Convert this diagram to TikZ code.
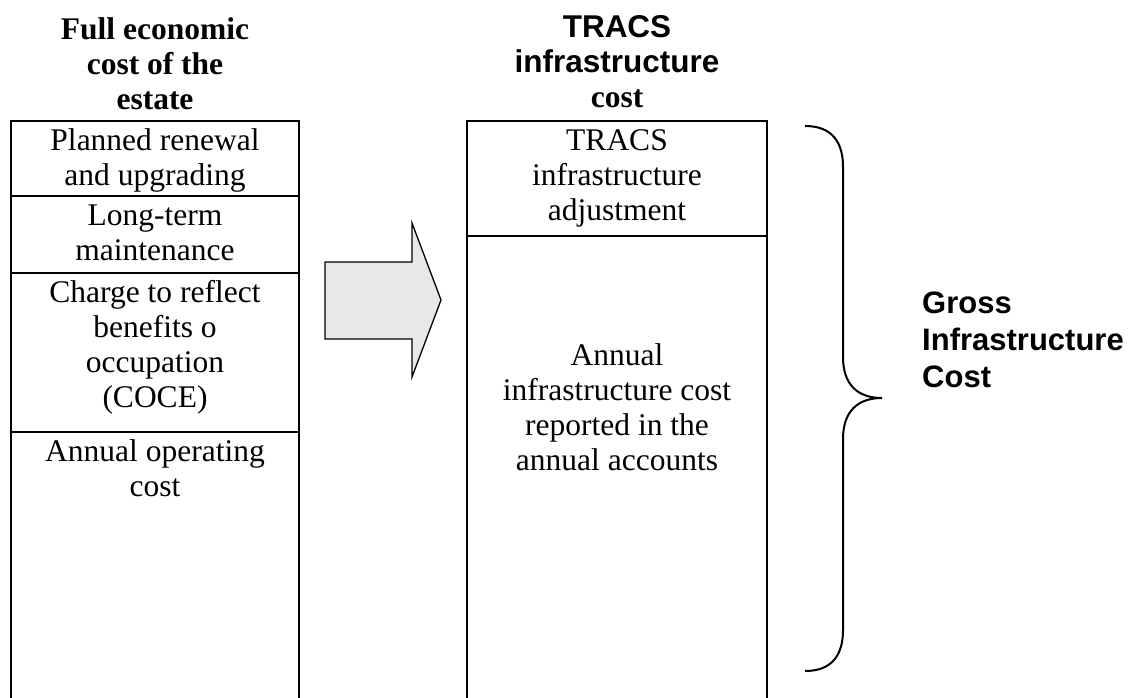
\documentclass[tikz,border=0pt]{standalone}
\usepackage{fontspec}
\setmainfont{Liberation Serif}
\setsansfont{Liberation Sans}
\definecolor{arrowgray}{RGB}{232,232,232}

\begin{document}
\begin{tikzpicture}
        [x=1pt, y=-1pt,
         cell/.style={draw, line width=2pt, inner sep=0, outer sep=0, anchor=north west},
         body/.style={font=\fontsize{31.5}{35}\selectfont, align=flush center, anchor=base, inner sep=0},
         head/.style={body, font=\fontsize{31.5}{35}\selectfont\bfseries}]

        \useasboundingbox (0,0) rectangle (1131,697);
        \clip (0,0) rectangle (1131,697);

        % left column
        \node[cell, minimum width=288, minimum height=75] (c1) at (11,121) {};
        \node[cell, minimum width=288, minimum height=77] (c2) at (11,196) {};
        \node[cell, minimum width=288, minimum height=159] (c3) at (11,273) {};
        \node[cell, minimum width=288, minimum height=300] (c4) at (11,432) {};

        % right column
        \node[cell, minimum width=300, minimum height=115] (r1) at (467,121) {};
        \node[cell, minimum width=300, minimum height=500] (r2) at (467,236) {};

        \node[head, text width=280] (h1) at (155,39) {Full economic\\cost of the\\estate};
        \node[head, text width=290] (h2) at (617,37) {{\sffamily TRACS}\\{\sffamily infrastructure}\\cost};

        \node[body, text width=280] (t1) at (155,150) {Planned renewal\\and upgrading};
        \node[body, text width=280] (t2) at (155,225) {Long-term\\maintenance};
        \node[body, text width=280] (t3) at (155,302) {Charge to reflect\\benefits o\\occupation\\(COCE)};
        \node[body, text width=280] (t4) at (155,461) {Annual operating\\cost};

        \node[body, text width=290] (u1) at (617,150) {TRACS\\infrastructure\\adjustment};
        \node[body, text width=290] (u2) at (617,365) {Annual\\infrastructure cost\\reported in the\\annual accounts};

        % arrow
        \draw[fill=arrowgray, line width=1.3pt, line join=miter]
          (325,262) -- (412,262) -- (412,223) -- (441,300) -- (412,377) -- (412,339) -- (325,339) -- cycle;

        % brace
        \draw[line width=2pt] (805,126) .. controls (832,126) and (843,142) .. (843,167) -- (843,357)
          .. controls (843,385) and (858,398) .. (882,398)
          .. controls (858,398) and (843,411) .. (843,439) -- (843,630)
          .. controls (843,655) and (832,671) .. (805,671);

        \node[body, font=\fontsize{31}{37}\selectfont\sffamily\bfseries, align=flush left, text width=210, anchor=base west] (gic) at (922,313) {Gross\\Infrastructure\\Cost};
      \end{tikzpicture}
\end{document}
